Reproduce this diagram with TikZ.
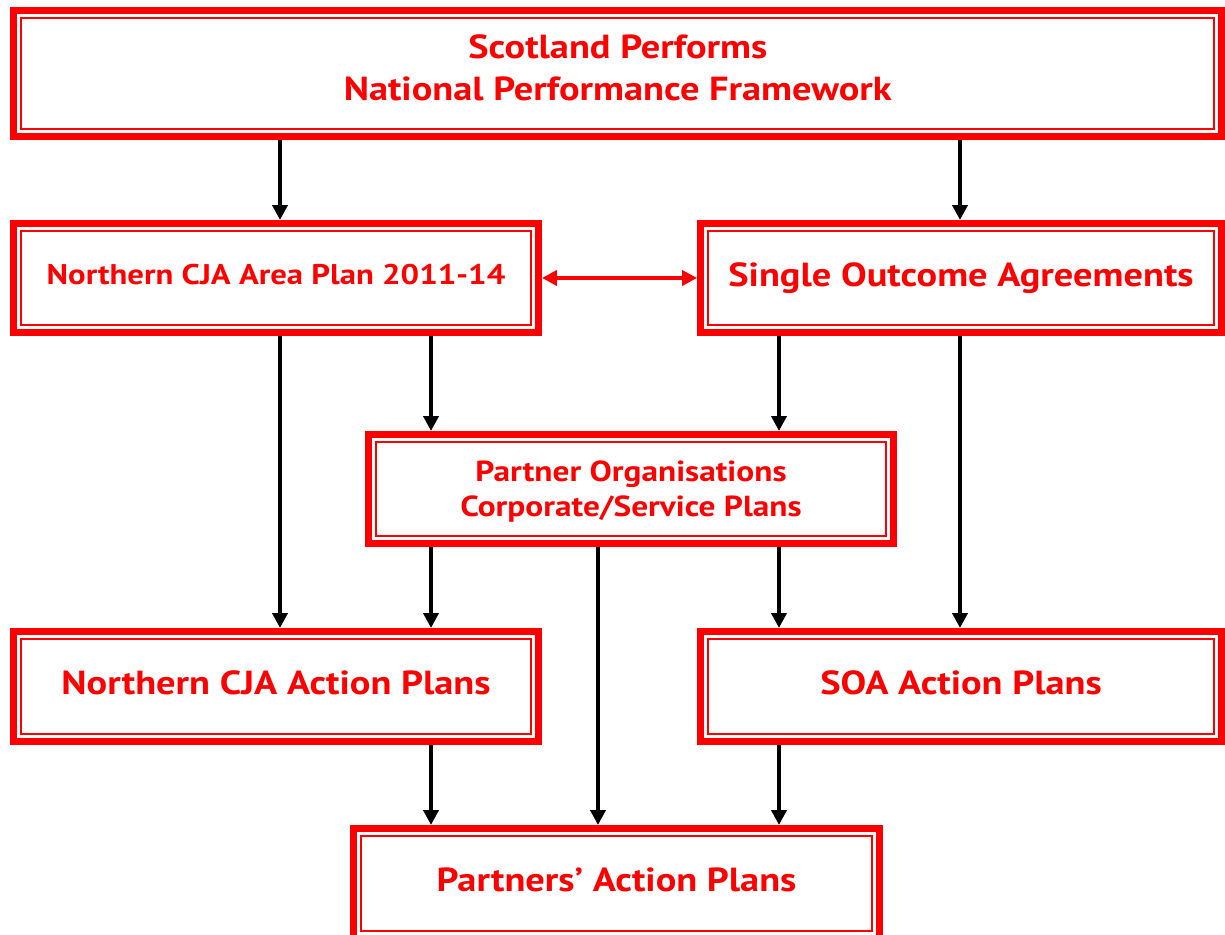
\documentclass[tikz,border=0pt]{standalone}
\usepackage{fontspec}
\setmainfont[FakeStretch=1.15]{PT Sans}
\usetikzlibrary{arrows.meta,positioning}

\begin{document}
\begin{tikzpicture}[
        x=0.02cm, y=-0.02cm,
        plan/.style={draw=red, line width=4pt, fill=white, text=red, align=center,
            font=\bfseries\fontsize{19}{24}\selectfont, text depth=4pt,
            path picture={\draw[red, line width=1.1pt]
                ([shift={(0.15cm,-0.15cm)}]path picture bounding box.north west) rectangle
                ([shift={(-0.15cm,0.15cm)}]path picture bounding box.south east);}},
        wide/.style={plan, minimum width=10.5cm, minimum height=2.2cm},
        small/.style={font=\bfseries\fontsize{16.2}{20}\selectfont},
        arrow/.style={-{Triangle[length=8.5pt, width=8.5pt]}, line width=2.6pt, black},
        link/.style={{Triangle[length=8.5pt, width=8.5pt]}-{Triangle[length=8.5pt, width=8.5pt]}, line width=2.4pt, red}
    ]
    \useasboundingbox (0,0) rectangle (1225,935);

    % Framework at the top
    \node[plan, minimum width=24.16cm, minimum height=2.52cm, text depth=7pt] (npf) at (617.75,73.5)
        {Scotland Performs\\National Performance Framework};

    % Second row
    \node[wide, small, minimum height=2.18cm] (area) at (276,278) {Northern CJA Area Plan 2011-14};
    \node[wide, minimum width=10.42cm, minimum height=2.18cm] (soa) at (961,278) {Single Outcome Agreements};

    % Partner plans in the middle
    \node[wide, small, font=\bfseries\fontsize{16.5}{20}\selectfont, text depth=0pt, minimum height=2.18cm] (corp) at (631,489)
        {Partner Organisations\\Corporate/Service Plans};

    % Action plans
    \node[wide] (cja) at (276,686.5) {Northern CJA Action Plans};
    \node[wide, minimum width=10.42cm] (soaap) at (961,686.5) {SOA Action Plans};
    \node[wide, minimum width=10.52cm] (pap) at (616.5,883.5) {Partners’ Action Plans};

    % Columns of the connectors
    \coordinate (c1) at (280,0);
    \coordinate (c2) at (431,0);
    \coordinate (c3) at (598,0);
    \coordinate (c4) at (779,0);
    \coordinate (c5) at (960,0);

    % Connectors
    \draw[arrow] (npf.south -| c1) -- (area.north -| c1);
    \draw[arrow] (npf.south -| c5) -- (soa.north -| c5);
    \draw[link] (area) -- (soa);
    \draw[arrow] (area.south -| c1) -- (cja.north -| c1);
    \draw[arrow] (area.south -| c2) -- (corp.north -| c2);
    \draw[arrow] (soa.south -| c4) -- (corp.north -| c4);
    \draw[arrow] (soa.south -| c5) -- (soaap.north -| c5);
    \draw[arrow] (corp.south -| c2) -- (cja.north -| c2);
    \draw[arrow] (corp.south -| c4) -- (soaap.north -| c4);
    \draw[arrow] (corp.south -| c3) -- (pap.north -| c3);
    \draw[arrow] (cja.south -| c2) -- (pap.north -| c2);
    \draw[arrow] (soaap.south -| c4) -- (pap.north -| c4);

\end{tikzpicture}
\end{document}
